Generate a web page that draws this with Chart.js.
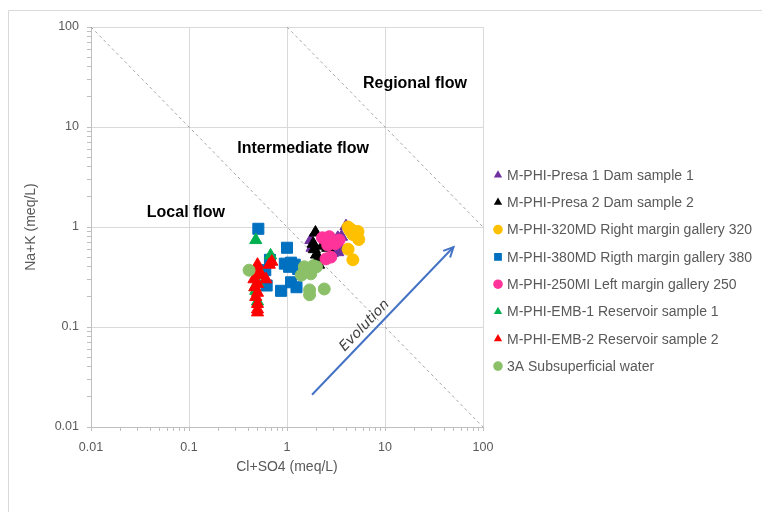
<!DOCTYPE html>
<html>
<head>
<meta charset="utf-8">
<script src="https://cdn.jsdelivr.net/npm/chart.js@4.4.1/dist/chart.umd.min.js"></script>
<style>
  body { margin: 0; background: #ffffff; }
  canvas { display: block; }
</style>
</head>
<body>
<canvas id="chart" width="762" height="512"></canvas>
<script>
// axis ticks (log scale, decades only get a label)
const tickValues = [0.01, 0.1, 1, 10, 100];
const tickLabels = ["0.01", "0.1", "1", "10", "100"];

// series names as in the legend
const seriesNames = [
    "M-PHI-Presa 1 Dam sample 1",
    "M-PHI-Presa 2 Dam sample 2",
    "M-PHI-320MD Right margin gallery 320",
    "M-PHI-380MD Rigth margin gallery 380",
    "M-PHI-250MI Left margin gallery 250",
    "M-PHI-EMB-1 Reservoir sample 1",
    "M-PHI-EMB-2 Reservoir sample 2",
    "3A Subsuperficial water"
];

// Cl+SO4 (x) and Na+K (y), meq/L
const presa1X = [1.75, 1.8, 2.9, 3.0, 3.3, 3.6, 4.0, 3.3, 3.6, 3.1];
const presa1Y = [0.74, 0.62, 0.55, 0.66, 0.78, 0.80, 1.02, 0.56, 0.60, 0.72];

const presa2X = [1.95, 1.85, 1.9, 2.0, 2.05, 2.1, 2.6, 2.3];
const presa2Y = [0.88, 0.68, 0.60, 0.53, 0.47, 0.42, 0.62, 0.65];

const md320X = [4.2, 4.5, 4.9, 5.3, 5.2, 4.7, 5.4, 4.2, 4.7, 4.4];
const md320Y = [1.0, 0.95, 0.90, 0.90, 0.80, 0.84, 0.75, 0.60, 0.47, 0.92];

const md380X = [0.51, 1.0, 0.95, 1.1, 1.2, 1.3, 1.05, 1.1, 1.25, 0.87, 0.62, 0.67, 0.6];
const md380Y = [0.96, 0.62, 0.43, 0.44, 0.42, 0.38, 0.40, 0.28, 0.25, 0.23, 0.26, 0.47, 0.37];

const mi250X = [2.3, 2.5, 2.7, 2.9, 3.2, 3.4, 2.6, 2.5, 2.8, 3.1];
const mi250Y = [0.78, 0.75, 0.80, 0.72, 0.70, 0.74, 0.66, 0.48, 0.50, 0.68];

const emb1X = [0.48, 0.68, 0.5, 0.5, 0.48, 0.5, 0.47, 0.5];
const emb1Y = [0.74, 0.52, 0.40, 0.33, 0.23, 0.18, 0.25, 0.28];

const emb2X = [0.5, 0.49, 0.7, 0.66, 0.61, 0.5, 0.46, 0.54, 0.5, 0.47, 0.5, 0.48, 0.5, 0.5, 0.5];
const emb2Y = [0.42, 0.38, 0.45, 0.42, 0.30, 0.33, 0.30, 0.34, 0.27, 0.25, 0.22, 0.20, 0.17, 0.15, 0.14];

const sub3aX = [0.41, 1.4, 1.5, 1.75, 1.85, 2.0, 1.65, 1.7, 1.7, 2.4, 1.6];
const sub3aY = [0.37, 0.33, 0.40, 0.34, 0.41, 0.40, 0.36, 0.235, 0.21, 0.24, 0.38];

// flow boundaries (x*y = 1 and x*y = 100) and the evolution arrow
const localLineX = [0.01, 100];
const localLineY = [100, 0.01];
const regionalLineX = [1, 100];
const regionalLineY = [100, 1];
const arrowX = [1.8, 50];
const arrowY = [0.021, 0.63];

// zone labels
const zoneNames = ["Local flow", "Intermediate flow", "Regional flow"];
const zoneX = [0.093, 1.46, 20.2];
const zoneY = [1.38, 6.03, 26.9];
const evolutionX = 6.2;
const evolutionY = 0.103;

const seriesColors = ["#7030A0", "#000000", "#FFC000", "#0070C0", "#FF3399", "#00B050", "#FF0000", "#8CC068"];
const seriesStyles = ["triangle", "triangle", "circle", "rect", "circle", "triangle", "triangle", "circle"];
const seriesX = [presa1X, presa2X, md320X, md380X, mi250X, emb1X, emb2X, sub3aX];
const seriesY = [presa1Y, presa2Y, md320Y, md380Y, mi250Y, emb1Y, emb2Y, sub3aY];

const FONT = "'Liberation Sans', Arial, sans-serif";

function toPoints(xs, ys) {
    return xs.map((x, i) => ({ x: x, y: ys[i] }));
}

function markerRadius(style) {
    if (style === "rect") return 7.8;
    if (style === "triangle") return 7;
    return 6;
}

function axisTicks() {
    const list = [];
    tickValues.forEach((v, i) => {
        list.push({ value: v });
        if (i < tickValues.length - 1) {
            for (let m = 2; m < 10; m++) list.push({ value: +(v * m).toPrecision(3) });
        }
    });
    return list;
}

function tickText(value) {
    const i = tickValues.indexOf(value);
    return i >= 0 ? tickLabels[i] : "";
}

function gridColor(ctx) {
    return ctx.tick && tickValues.includes(ctx.tick.value) ? "#d9d9d9" : "rgba(0,0,0,0)";
}

const datasets = seriesNames.map((name, i) => ({
    label: name,
    data: toPoints(seriesX[i], seriesY[i]),
    pointStyle: seriesStyles[i],
    pointRadius: markerRadius(seriesStyles[i]),
    pointBackgroundColor: seriesColors[i],
    pointBorderColor: seriesColors[i],
    pointBorderWidth: 1,
    order: 7 - i
}));

datasets.push({
    label: "local",
    data: toPoints(localLineX, localLineY),
    showLine: true,
    borderColor: "#a6a6a6",
    borderWidth: 1,
    borderDash: [3, 3],
    pointRadius: 0,
    order: 30
});
datasets.push({
    label: "regional",
    data: toPoints(regionalLineX, regionalLineY),
    showLine: true,
    borderColor: "#a6a6a6",
    borderWidth: 1,
    borderDash: [3, 3],
    pointRadius: 0,
    order: 31
});
datasets.push({
    label: "arrow",
    data: toPoints(arrowX, arrowY),
    showLine: true,
    borderColor: "#4472C4",
    borderWidth: 2,
    pointRadius: 0,
    order: 29
});
const arrowIndex = datasets.length - 1;

const extrasPlugin = {
    id: "extras",
    beforeDraw(chart) {
        const c = chart.ctx;
        c.save();
        c.strokeStyle = "#d9d9d9";
        c.lineWidth = 1;
        c.beginPath();
        c.moveTo(8.5, 512);
        c.lineTo(8.5, 10.5);
        c.lineTo(762, 10.5);
        c.stroke();
        c.restore();
    },
    afterDatasetsDraw(chart) {
        const c = chart.ctx;
        const sx = chart.scales.x;
        const sy = chart.scales.y;

        // zone labels
        c.save();
        c.fillStyle = "#000000";
        c.font = "bold 16px " + FONT;
        c.textAlign = "center";
        c.textBaseline = "middle";
        zoneNames.forEach((t, i) => {
            c.fillText(t, sx.getPixelForValue(zoneX[i]), sy.getPixelForValue(zoneY[i]));
        });

        // arrow head
        const meta = chart.getDatasetMeta(arrowIndex);
        const p0 = meta.data[0];
        const p1 = meta.data[1];
        const a = Math.atan2(p1.y - p0.y, p1.x - p0.x);
        c.strokeStyle = "#4472C4";
        c.lineWidth = 2;
        c.beginPath();
        c.moveTo(p1.x - 11 * Math.cos(a - 0.45), p1.y - 11 * Math.sin(a - 0.45));
        c.lineTo(p1.x, p1.y);
        c.lineTo(p1.x - 11 * Math.cos(a + 0.45), p1.y - 11 * Math.sin(a + 0.45));
        c.stroke();

        // "Evolution" along the arrow
        c.translate(sx.getPixelForValue(evolutionX), sy.getPixelForValue(evolutionY));
        c.rotate(a);
        c.font = "italic 14px 'DejaVu Sans', sans-serif";
        c.fillStyle = "#404040";
        c.fillText("Evolution", 0, 0);
        c.restore();
    },
    afterDraw(chart) {
        const c = chart.ctx;
        c.save();
        c.font = "14px " + FONT;
        c.textBaseline = "middle";
        c.textAlign = "left";
        seriesNames.forEach((name, i) => {
            const y = 175 + i * 27.3;
            c.fillStyle = seriesColors[i];
            Chart.helpers.drawPoint(c, { pointStyle: seriesStyles[i], radius: seriesStyles[i] === "rect" ? 5.5 : 4.8, borderWidth: 0 }, 498, y);
            c.fillStyle = "#595959";
            c.fillText(name, 507, y + 1);
        });
        c.restore();
    }
};

function logAxis(title, extra) {
    return Object.assign({
        type: "logarithmic",
        min: 0.01,
        max: 100,
        afterBuildTicks: (scale) => { scale.ticks = axisTicks(); },
        grid: { color: gridColor, tickColor: "#bfbfbf", tickLength: 4, lineWidth: 1 },
        border: { color: "#bfbfbf" },
        title: { display: true, text: title, color: "#595959", font: { family: FONT, size: 14 } }
    }, extra);
}

const ctx = document.getElementById("chart").getContext("2d");
new Chart(ctx, {
    type: "scatter",
    data: { datasets: datasets },
    options: {
        responsive: false,
        animation: false,
        layout: { padding: { left: 0, top: 27, right: 279, bottom: 0 } },
        plugins: {
            legend: { display: false },
            tooltip: { enabled: false }
        },
        scales: {
            x: logAxis("Cl+SO4 (meq/L)", {
                afterFit: (scale) => { scale.height = 85; },
                ticks: { autoSkip: false, maxRotation: 0, padding: 9, color: "#595959", font: { family: FONT, size: 12.5 }, callback: tickText }
            }),
            y: logAxis("Na+K (meq/L)", {
                afterFit: (scale) => { scale.width = 91; },
                ticks: { autoSkip: false, padding: 8, color: "#595959", font: { family: FONT, size: 12.5 }, callback: tickText }
            })
        }
    },
    plugins: [extrasPlugin]
});

// titles need their own padding
const chart = Chart.getChart("chart");
chart.options.scales.x.title.padding = { top: 0, bottom: 36 };
chart.options.scales.y.title.padding = { top: 23, bottom: 0 };
chart.update();
</script>
</body>
</html>
